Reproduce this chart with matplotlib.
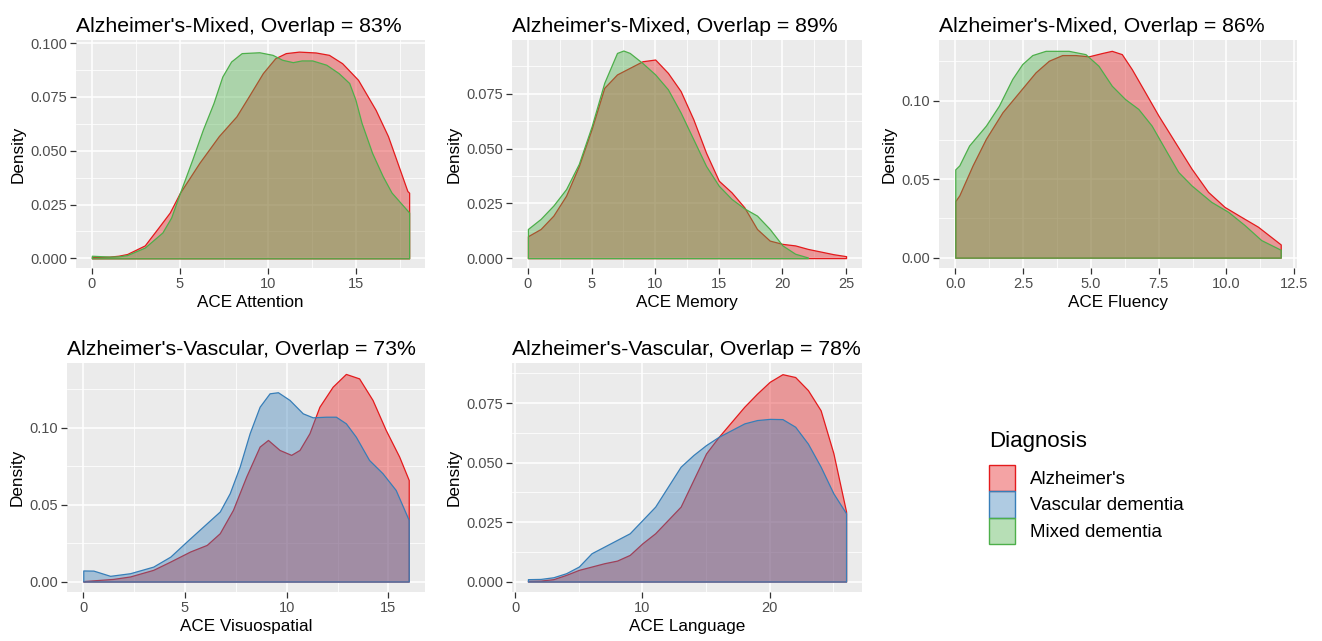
import matplotlib.pyplot as plt
from matplotlib.patches import Patch
from matplotlib.ticker import MultipleLocator
from matplotlib.colors import to_rgba

plt.rcParams['font.family'] = ['Liberation Sans', 'DejaVu Sans']

# ---- colours (Set1) ----
RED, BLUE, GREEN = '#E41A1C', '#377EB8', '#4DAF4A'
ALPHA = 0.4

# ---- data ----
# ACE Attention (Alzheimer's vs Mixed)
att_x_alz = [0, 1, 1.5, 2, 3, 3.85, 4.42, 5.0, 6.1, 7.2, 8.2, 8.9, 9.7, 10.4, 11.0, 11.75, 12.7, 13.45, 14.2, 15.1, 16.1,
             16.8, 17.4, 17.9, 18]
att_d_alz = [0.0006, 0.0008, 0.0012, 0.002, 0.006, 0.0151, 0.0213, 0.0305, 0.0444, 0.0568, 0.066, 0.0753, 0.0861, 0.093,
             0.0954, 0.0961, 0.0957, 0.0946, 0.0907, 0.083, 0.069, 0.0568, 0.0429, 0.0313, 0.0305]
att_x_mix = [0, 0.5, 1, 1.5, 2, 3, 4, 4.5, 5.0, 5.7, 6.3, 6.9, 7.4, 7.9, 8.5, 9.5, 10.25, 10.8, 11.4, 11.9, 12.5, 13.3,
             14.0, 14.6, 14.95, 15.3, 15.9, 16.5, 17.0, 18]
att_d_mix = [0.0012, 0.001, 0.0008, 0.0009, 0.0015, 0.005, 0.012, 0.019, 0.0305, 0.046, 0.0599, 0.0722, 0.0845, 0.0915,
             0.0954, 0.0958, 0.0946, 0.0923, 0.0912, 0.092, 0.092, 0.090, 0.0861, 0.0815, 0.0738, 0.063, 0.049, 0.0382,
             0.0306, 0.0213]

# ACE Memory (Alzheimer's vs Mixed)
mem_x_alz = list(range(0, 26))
mem_d_alz = [0.010, 0.0133, 0.0194, 0.0285, 0.042, 0.0588, 0.0777, 0.0838, 0.0868, 0.0898, 0.0906, 0.0845, 0.0762, 0.0633,
             0.048, 0.0353, 0.030, 0.0232, 0.0133, 0.008, 0.0065, 0.0058, 0.0042, 0.003, 0.0018, 0.0009]
mem_x_mix = [0, 1, 2, 3, 4, 5, 6, 7, 7.5, 8, 9, 10, 11, 12, 13, 14, 15, 16, 17, 18, 19, 20, 21, 22]
mem_d_mix = [0.0133, 0.0179, 0.024, 0.0315, 0.043, 0.060, 0.080, 0.0936, 0.0947, 0.0936, 0.089, 0.0838, 0.077, 0.0664, 0.0542,
             0.042, 0.033, 0.027, 0.0227, 0.0194, 0.0133, 0.0058, 0.002, 0.0003]

# ACE Fluency (Alzheimer's vs Mixed)
flu_x_alz = [0, 0.15, 0.64, 1.13, 1.74, 2.35, 2.96, 3.45, 3.94, 4.43, 4.92, 5.41, 5.77, 6.14, 6.51, 7.0, 7.49, 8.1, 8.71,
             9.32, 9.93, 10.54, 11.16, 12]
flu_d_alz = [0.036, 0.0397, 0.0588, 0.0757, 0.0926, 0.1053, 0.118, 0.1254, 0.129, 0.129, 0.1282, 0.1303, 0.1317, 0.1296,
             0.120, 0.1053, 0.0905, 0.0736, 0.0567, 0.0419, 0.0323, 0.026, 0.0197, 0.0084]
flu_x_mix = [0, 0.15, 0.51, 1.13, 1.61, 2.10, 2.47, 2.84, 3.33, 4.18, 4.8, 5.28, 5.77, 6.26, 6.75, 7.24, 7.73, 8.22, 8.71,
             9.44, 10.06, 10.67, 11.28, 12]
flu_d_mix = [0.0562, 0.0588, 0.0714, 0.0841, 0.0968, 0.1138, 0.1233, 0.129, 0.1317, 0.1317, 0.1296, 0.1222, 0.1095, 0.101,
             0.0947, 0.0841, 0.0693, 0.0546, 0.046, 0.0355, 0.0292, 0.0207, 0.0112, 0.0050]

# ACE Visuospatial (Alzheimer's vs Vascular)
vis_x_alz = [0, 1.47, 2.3, 3.44, 4.28, 5.25, 6.07, 6.71, 7.36, 8.01, 8.67, 9.08, 9.65, 10.22, 10.63, 11.12, 11.61, 12.26,
             12.91, 13.56, 14.22, 14.87, 15.53, 16]
vis_d_alz = [0.0003, 0.0017, 0.0033, 0.0076, 0.013, 0.0195, 0.0238, 0.0314, 0.0466, 0.0682, 0.0877, 0.092, 0.0855, 0.0823,
             0.0855, 0.0964, 0.1136, 0.1266, 0.1349, 0.132, 0.118, 0.0985, 0.0812, 0.066]
vis_x_vas = [0, 0.5, 1.32, 2.3, 3.44, 4.28, 5.08, 5.89, 6.71, 7.2, 7.69, 8.18, 8.67, 9.16, 9.57, 10.14, 10.79, 11.28, 11.93,
             12.42, 12.91, 13.4, 14.05, 14.71, 15.36, 16]
vis_d_vas = [0.0072, 0.0071, 0.0037, 0.0054, 0.0097, 0.0162, 0.026, 0.0357, 0.0455, 0.0574, 0.0747, 0.0964, 0.1136, 0.1223,
             0.123, 0.118, 0.1093, 0.1067, 0.1071, 0.1071, 0.1028, 0.0941, 0.079, 0.0704, 0.0595, 0.040]

# ACE Language (Alzheimer's vs Vascular)
lan_x = list(range(1, 27))
lan_d_alz = [0.0003, 0.0004, 0.001, 0.0028, 0.0049, 0.0063, 0.0077, 0.0088, 0.0112, 0.0161, 0.0203, 0.0259, 0.0315, 0.0427,
             0.0539, 0.0609, 0.0672, 0.0735, 0.079, 0.084, 0.0872, 0.086, 0.0805, 0.072, 0.054, 0.0294]
lan_d_vas = [0.001, 0.0011, 0.0018, 0.0035, 0.0063, 0.0119, 0.0147, 0.0175, 0.0203, 0.0259, 0.0315, 0.0399, 0.0483, 0.0532,
             0.0574, 0.0609, 0.0637, 0.0665, 0.0679, 0.0684, 0.0683, 0.0651, 0.058, 0.0483, 0.0371, 0.0287]

legend_labels = ["Alzheimer's", "Vascular dementia", "Mixed dementia"]

# ---- figure ----
W, H = 1322, 641
fig = plt.figure(figsize=(W / 100, H / 100), dpi=100)


def box(x0, x1, y0, y1):
    # pixel box -> figure fraction
    return [x0 / W, 1 - y1 / H, (x1 - x0) / W, (y1 - y0) / H]


def style_axes(ax, title, xlabel, xlim, ylim, xmaj, ymaj, yfmt, xfmt=None):
    ax.set_facecolor('#EBEBEB')
    for s in ax.spines.values():
        s.set_visible(False)
    ax.set_xlim(*xlim)
    ax.set_ylim(*ylim)
    ax.xaxis.set_major_locator(MultipleLocator(xmaj))
    ax.xaxis.set_minor_locator(MultipleLocator(xmaj / 2))
    ax.yaxis.set_major_locator(MultipleLocator(ymaj))
    ax.yaxis.set_minor_locator(MultipleLocator(ymaj / 2))
    ax.yaxis.set_major_formatter(lambda v, p: yfmt.format(v))
    if xfmt:
        ax.xaxis.set_major_formatter(lambda v, p: xfmt.format(v))
    ax.grid(which='major', color='white', linewidth=1.1)
    ax.grid(which='minor', color='white', linewidth=0.55)
    ax.set_axisbelow(True)
    ax.tick_params(which='major', length=4, width=0.9, color='#333333',
                   labelcolor='#4D4D4D', labelsize=10.5, pad=2.5)
    ax.tick_params(which='minor', length=0)
    ax.set_title(title, loc='left', fontsize=15.3, pad=6)
    ax.set_xlabel(xlabel, fontsize=12.3, labelpad=3)
    ax.set_ylabel('Density', fontsize=12.3, labelpad=3)


def density(ax, x, d, color):
    ax.fill_between(x, 0, d, facecolor=to_rgba(color, ALPHA), edgecolor=color, linewidth=0.9)


ax1 = fig.add_axes(box(76, 425, 40, 268))
density(ax1, att_x_alz, att_d_alz, RED)
density(ax1, att_x_mix, att_d_mix, GREEN)
style_axes(ax1, "Alzheimer's-Mixed, Overlap = 83%", 'ACE Attention',
           (-0.9, 18.9), (-0.0045, 0.1015), 5, 0.025, '{:.3f}')

ax2 = fig.add_axes(box(512, 862, 40, 268))
density(ax2, mem_x_alz, mem_d_alz, RED)
density(ax2, mem_x_mix, mem_d_mix, GREEN)
style_axes(ax2, "Alzheimer's-Mixed, Overlap = 89%", 'ACE Memory',
           (-1.25, 26.25), (-0.0045, 0.0995), 5, 0.025, '{:.3f}')

ax3 = fig.add_axes(box(939, 1297, 40, 268))
density(ax3, flu_x_alz, flu_d_alz, RED)
density(ax3, flu_x_mix, flu_d_mix, GREEN)
style_axes(ax3, "Alzheimer's-Mixed, Overlap = 86%", 'ACE Fluency',
           (-0.6, 12.6), (-0.0066, 0.1386), 2.5, 0.05, '{:.2f}', '{:.1f}')

ax4 = fig.add_axes(box(67, 425, 363, 592))
density(ax4, vis_x_alz, vis_d_alz, RED)
density(ax4, vis_x_vas, vis_d_vas, BLUE)
style_axes(ax4, "Alzheimer's-Vascular, Overlap = 73%", 'ACE Visuospatial',
           (-0.8, 16.8), (-0.0068, 0.142), 5, 0.05, '{:.2f}')

ax5 = fig.add_axes(box(512, 862, 363, 592))
density(ax5, lan_x, lan_d_alz, RED)
density(ax5, lan_x, lan_d_vas, BLUE)
style_axes(ax5, "Alzheimer's-Vascular, Overlap = 78%", 'ACE Language',
           (-0.25, 27.25), (-0.0044, 0.0919), 10, 0.025, '{:.3f}')

handles = [Patch(facecolor=to_rgba(c, ALPHA), edgecolor=c, linewidth=1.0) for c in (RED, BLUE, GREEN)]
leg = fig.legend(handles, legend_labels, title='Diagnosis', loc='upper left',
                 bbox_to_anchor=(989 / W, 1 - 431 / H), frameon=False, fontsize=13.5,
                 title_fontsize=16, handlelength=1.4, handleheight=1.8, labelspacing=0.0,
                 handletextpad=0.8, borderpad=0, borderaxespad=0, alignment='left')
leg._legend_box.sep = 9

fig.savefig('out.png', dpi=100)
